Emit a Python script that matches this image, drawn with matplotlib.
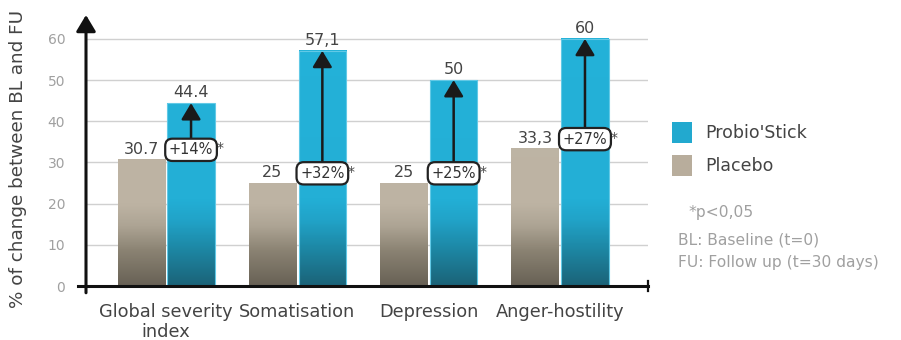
import numpy as np
import matplotlib.pyplot as plt
from matplotlib.colors import LinearSegmentedColormap
from matplotlib.patches import Rectangle

# dati del grafico
categorie = ["Global severity\nindex", "Somatisation", "Depression", "Anger-hostility"]
placebo = [30.7, 25, 25, 33.3]
probio = [44.4, 57.1, 50, 60]
etich_placebo = ["30.7", "25", "25", "33,3"]
etich_probio = ["44.4", "57,1", "50", "60"]
aumenti = ["+14%", "+32%", "+25%", "+27%"]

W, H = 901, 340
fx = lambda x: x / W
fy = lambda y: 1 - y / H

fig = plt.figure(figsize=(W / 100, H / 100), dpi=100)
ax = fig.add_axes([fx(86), fy(286), fx(648) - fx(86), fy(15) - fy(286)])

YMAX = 65.8

# sfumature delle barre (scure in basso)
cm_placebo = LinearSegmentedColormap.from_list(
    "plc", [(0, "#686155"), (0.13, "#8b8373"), (0.22, "#ada494"), (0.3, "#bdb3a3"), (1, "#c0b7a7")])
cm_probio = LinearSegmentedColormap.from_list(
    "prb", [(0, "#1b6378"), (0.13, "#1d86a3"), (0.24, "#21a3c8"), (0.32, "#23afd6"), (1, "#24b2d9")])

x = np.arange(len(categorie))
larg = 0.36
barre_pl = ax.bar(x - 0.19, placebo, larg, color="none", zorder=3)
barre_pr = ax.bar(x + 0.19, probio, larg, facecolor="none", edgecolor="#62c9e6",
                  lw=0.8, zorder=3)

for barre, cmap in [(barre_pl, cm_placebo), (barre_pr, cm_probio)]:
    for b in barre:
        x0, h, w = b.get_x(), b.get_height(), b.get_width()
        Z = np.linspace(0, h / YMAX, 200).reshape(-1, 1)
        ax.imshow(Z, extent=(x0, x0 + w, 0, h), origin="lower", cmap=cmap,
                  vmin=0, vmax=1, aspect="auto", zorder=2, interpolation="bilinear")

ax.set_xlim(-0.61, 3.67)
ax.set_ylim(0, YMAX)

freccia = "-|>,head_length=0.55,head_width=0.33"

# etichette dei valori
for i in range(len(categorie)):
    ax.annotate(etich_placebo[i], (x[i] - 0.19, placebo[i]), xytext=(0, 2),
                textcoords="offset points", ha="center", va="bottom",
                fontsize=11.5, color="#444444", zorder=5)
    ax.annotate(etich_probio[i], (x[i] + 0.19, probio[i]), xytext=(0, 2),
                textcoords="offset points", ha="center", va="bottom",
                fontsize=11.5, color="#444444", zorder=5)
    # freccia dal placebo al probiotico
    ax.annotate("", xy=(x[i] + 0.19, probio[i]), xytext=(x[i] + 0.19, placebo[i]),
                arrowprops=dict(arrowstyle=freccia, color="#1a1a1a", lw=1.8,
                                mutation_scale=18, shrinkA=0, shrinkB=0), zorder=4)
    ax.annotate(aumenti[i], (x[i] + 0.19, placebo[i]), xytext=(0, 7),
                textcoords="offset points", ha="center", va="center",
                fontsize=10.5, color="#333333", zorder=6,
                bbox=dict(boxstyle="round,pad=0.25,rounding_size=0.5", fc="white",
                          ec="#222222", lw=1.6))
    ax.annotate("*", (x[i] + 0.19, placebo[i]), xytext=(21, 8),
                textcoords="offset points", ha="center", va="center",
                fontsize=10, color="#444444", zorder=6)

# griglia e assi
ax.set_yticks(range(0, 61, 10))
ax.yaxis.grid(True, color="#d0d0d0", lw=1)
ax.set_axisbelow(True)
for s in ax.spines.values():
    s.set_visible(False)
ax.tick_params(axis="y", length=0, pad=15, labelsize=10, labelcolor="#a0a0a0")
ax.set_xticks(x)
ax.set_xticklabels(categorie)
ax.tick_params(axis="x", length=0, pad=12, labelsize=12.8, labelcolor="#444444")

ax.annotate("", xy=(0, 1), xytext=(0, -0.025), xycoords="axes fraction",
            arrowprops=dict(arrowstyle=freccia, color="#111111", lw=2.2,
                            mutation_scale=18, shrinkA=0, shrinkB=0),
            annotation_clip=False)
ax.plot([-0.015, 1.0], [0, 0], transform=ax.transAxes, color="#111111",
        lw=2.2, clip_on=False, zorder=7)
ax.plot([1.0, 1.0], [-0.02, 0.02], transform=ax.transAxes, color="#111111",
        lw=1.6, clip_on=False, zorder=7)

fig.text(fx(18), fy(308), "% of change between BL and FU", rotation=90,
         ha="center", va="bottom", fontsize=13.2, color="#444444")

# legenda
fig.patches.append(Rectangle((fx(672), fy(143)), fx(20), fy(122) - fy(143),
                             transform=fig.transFigure, fc="#22a9cf", ec="none"))
fig.patches.append(Rectangle((fx(672), fy(176)), fx(20), fy(155) - fy(176),
                             transform=fig.transFigure, fc="#b8ad9c", ec="none"))
fig.text(fx(705), fy(133), "Probio'Stick", va="center", fontsize=12.5, color="#444444")
fig.text(fx(705), fy(166), "Placebo", va="center", fontsize=12.5, color="#444444")
fig.text(fx(688), fy(212), "*p<0,05", va="center", fontsize=11.2, color="#a0a0a0")
fig.text(fx(678), fy(240), "BL: Baseline (t=0)", va="center", fontsize=11.2, color="#a0a0a0")
fig.text(fx(678), fy(263), "FU: Follow up (t=30 days)", va="center", fontsize=11.2, color="#a0a0a0")

fig.savefig("out.png", dpi=100)
